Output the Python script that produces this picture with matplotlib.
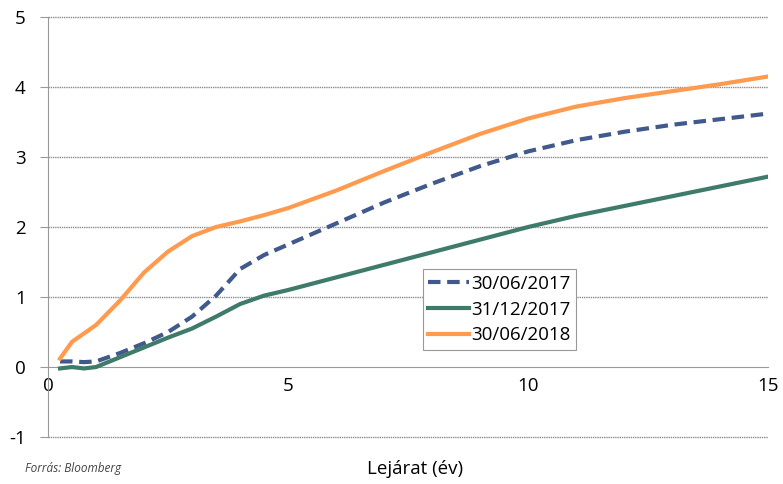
import matplotlib
matplotlib.use("Agg")
import matplotlib.pyplot as plt

plt.rcParams['font.family'] = ['Open Sans', 'DejaVu Sans']
plt.rcParams['axes.unicode_minus'] = False

# lejárat (év)
lejarat = [0.25, 0.5, 0.75, 1, 1.5, 2, 2.5, 3, 3.5, 4, 4.5, 5, 6, 7, 8, 9, 10, 11, 12, 13, 14, 15]

hozam_2017_06 = [0.08, 0.08, 0.07, 0.08, 0.2, 0.34, 0.5, 0.72, 1.02, 1.4, 1.6, 1.75, 2.05, 2.35, 2.62, 2.87, 3.08, 3.24, 3.36, 3.46, 3.54, 3.62]
hozam_2017_12 = [-0.02, 0.0, -0.02, 0.0, 0.14, 0.28, 0.42, 0.55, 0.72, 0.9, 1.02, 1.1, 1.28, 1.46, 1.64, 1.82, 2.0, 2.16, 2.3, 2.44, 2.58, 2.72]
hozam_2018_06 = [0.12, 0.36, 0.48, 0.6, 0.95, 1.35, 1.65, 1.87, 2.0, 2.08, 2.17, 2.27, 2.52, 2.8, 3.07, 3.33, 3.55, 3.72, 3.84, 3.94, 4.04, 4.15]

cimkek = ['30/06/2017', '31/12/2017', '30/06/2018']

fig = plt.figure(figsize=(7.83, 4.84), dpi=100)
ax = fig.add_axes([0.0613, 0.097, 0.92, 0.868])
ax.set_axisbelow(True)

for y in range(-1, 6):
    if y != 0:
        ax.axhline(y, color='#8c8c8c', lw=1, ls=(0, (1, 0.6)), zorder=1, clip_on=False)

ax.plot(lejarat, hozam_2017_06, color='#41598c', lw=3, ls=(0, (3, 1.6)), label=cimkek[0], zorder=3)
ax.plot(lejarat, hozam_2017_12, color='#3e7b6a', lw=3, label=cimkek[1], solid_joinstyle='round', zorder=3)
ax.plot(lejarat, hozam_2018_06, color='#ff9a4e', lw=3, label=cimkek[2], solid_joinstyle='round', zorder=3)

ax.set_xlim(0, 15)
ax.set_ylim(-1, 5)
ax.set_xticks([0, 5, 10, 15])
ax.set_yticks(range(-1, 6))

ax.spines['top'].set_visible(False)
ax.spines['right'].set_visible(False)
ax.spines['bottom'].set_position(('data', 0))
ax.spines['bottom'].set_color('#999999')
ax.spines['left'].set_color('#999999')
ax.tick_params(axis='x', length=0, labelsize=13.5, pad=7)
ax.tick_params(axis='y', length=6, color='#999999', labelsize=13.5, pad=10)

ax.set_xlabel('Lejárat (év)', fontsize=13.5)
ax.xaxis.set_label_coords(0.51, -0.055)

leg = ax.legend(loc='upper left', bbox_to_anchor=(0.52, 0.40), fontsize=13.5,
                frameon=True, fancybox=False, handlelength=2.2, handletextpad=0.1,
                borderpad=0.3, labelspacing=0.42, borderaxespad=0, framealpha=1)
leg.get_frame().set_edgecolor('#999999')
leg.get_frame().set_linewidth(0.8)

fig.text(0.032, 0.025, 'Forrás: Bloomberg', fontsize=8.5, style='italic', color='#444444')

fig.savefig('out.png', dpi=100)
